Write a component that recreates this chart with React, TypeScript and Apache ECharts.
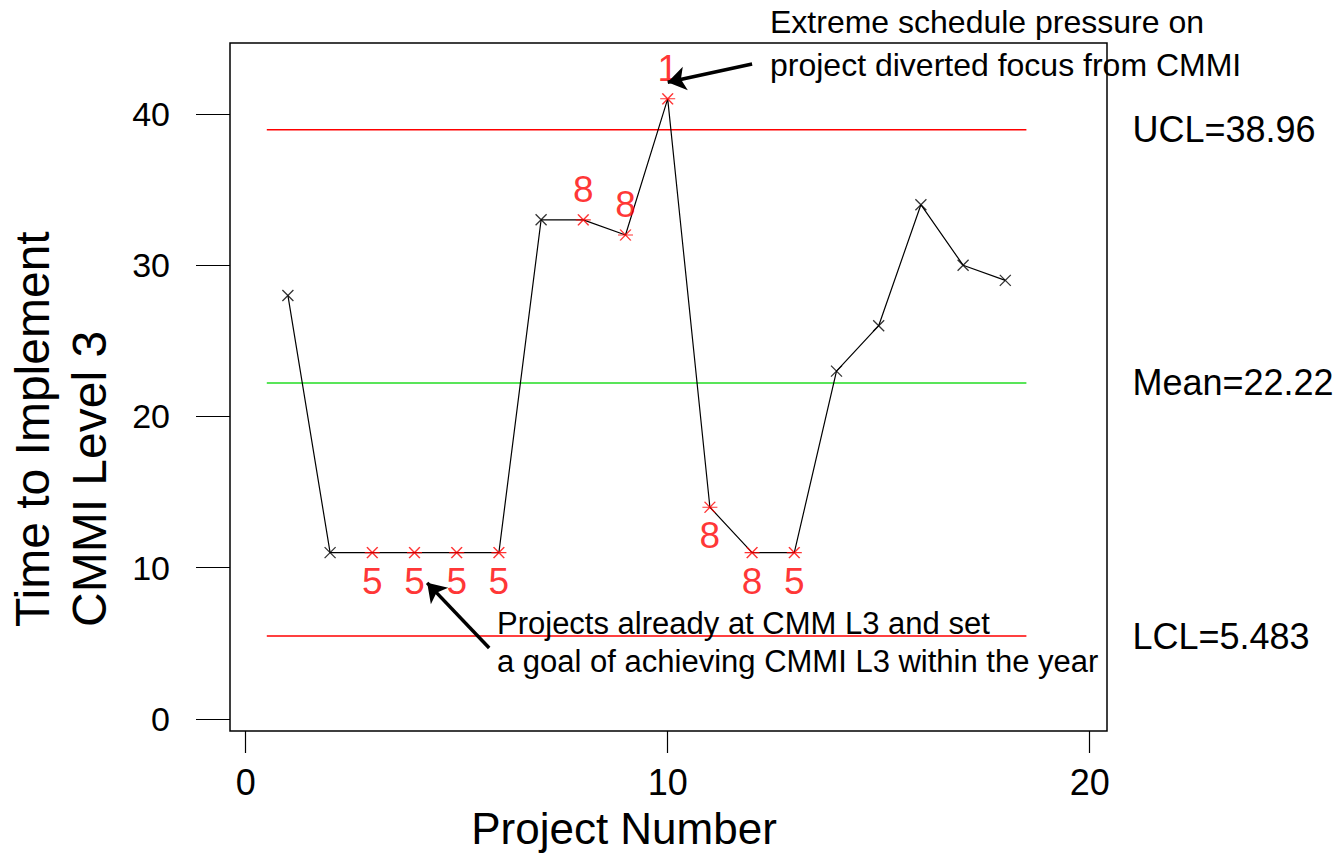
import React, { useEffect, useRef } from "react";
import * as echarts from "echarts";

// Project data: time (months) to reach CMMI Level 3
const PROJECTS = [1, 2, 3, 4, 5, 6, 7, 8, 9, 10, 11, 12, 13, 14, 15, 16, 17, 18];
const TIMES = [28, 11, 11, 11, 11, 11, 33, 33, 32, 41, 14, 11, 11, 23, 26, 34, 30, 29];
// Number of the failed control-chart test for each point ("" = no failure)
const FAILED_TEST = ["", "", "5", "5", "5", "5", "", "8", "8", "1", "8", "8", "5", "", "", "", "", ""];

// Control limits
const UCL = 38.96;
const MEAN = 22.22;
const LCL = 5.483;
const LIMIT_SPAN = [0.5, 18.5];

const X_TICKS = [0, 10, 20];
const Y_TICKS = [0, 10, 20, 30, 40];

// Callout texts and arrow end points (data coordinates: [from, to])
const NOTE_TOP = ["Extreme schedule pressure on", "project diverted focus from CMMI"];
const NOTE_BOTTOM = ["Projects already at CMM L3 and set", "a goal of achieving CMMI L3 within the year"];
const ARROW_TOP = [[12.0, 43.3], [10.0, 42.1]];
const ARROW_BOTTOM = [[5.77, 4.69], [4.3, 9.0]];

const FONT = '"Liberation Sans", Arial, Helvetica, sans-serif';
const CROSS = "path://M0,0L10,10M10,0L0,10";
const STAR = "path://M0,0L10,10M10,0L0,10M-2,5L12,5";

export default function App() {
  const ref = useRef<HTMLDivElement>(null);

  useEffect(() => {
    if (!ref.current) return;
    const chart = echarts.init(ref.current, undefined, { renderer: "svg" });

    const points = PROJECTS.map((p, i) => {
      const flagged = FAILED_TEST[i] !== "";
      const above = TIMES[i] > MEAN;
      return {
        value: [p, TIMES[i]],
        symbol: flagged ? STAR : CROSS,
        symbolSize: flagged ? [15, 11] : [11, 11],
        itemStyle: {
          color: "rgba(0,0,0,0)",
          borderColor: flagged ? "#ff0000" : "#000000",
          borderWidth: 1.3,
        },
        label: {
          show: flagged,
          formatter: FAILED_TEST[i],
          position: above ? "top" : "bottom",
          distance: above ? 6 : 4,
          color: "#ff0000",
          fontSize: 37,
          fontFamily: FONT,
          lineHeight: 37,
        },
      };
    });

    const limitSeries = (name: string, value: number, color: string) => ({
      name,
      type: "line",
      data: [
        [LIMIT_SPAN[0], value],
        [LIMIT_SPAN[1], value],
      ],
      symbol: "none",
      silent: true,
      lineStyle: { color, width: 1.5 },
      z: 1,
      endLabel: {
        show: true,
        formatter: `${name}=${value}`,
        distance: 106,
        color: "#000",
        fontSize: 36,
        fontFamily: FONT,
      },
    });

    chart.setOption({
      animation: false,
      textStyle: { fontFamily: FONT },
      grid: {
        show: true,
        left: 230,
        right: 233,
        top: 43,
        bottom: 122,
        borderColor: "#000",
        borderWidth: 1.5,
        backgroundColor: "transparent",
      },
      xAxis: {
        type: "value",
        min: -0.372,
        max: 20.41,
        axisLine: { show: false, onZero: false },
        splitLine: { show: false },
        axisTick: {
          show: true,
          length: 22,
          customValues: X_TICKS,
          lineStyle: { color: "#000", width: 1.2 },
        },
        axisLabel: {
          customValues: X_TICKS,
          fontSize: 36,
          lineHeight: 30,
          color: "#000",
          margin: 36,
          fontFamily: FONT,
        },
      },
      yAxis: {
        type: "value",
        min: -0.793,
        max: 44.69,
        axisLine: { show: false, onZero: false },
        splitLine: { show: false },
        axisTick: {
          show: true,
          length: 34,
          customValues: Y_TICKS,
          lineStyle: { color: "#000", width: 1.2 },
        },
        axisLabel: {
          customValues: Y_TICKS,
          fontSize: 34,
          color: "#000",
          margin: 60,
          fontFamily: FONT,
        },
      },
      series: [
        limitSeries("UCL", UCL, "#ff0000"),
        limitSeries("Mean", MEAN, "#22dd22"),
        limitSeries("LCL", LCL, "#ff0000"),
        {
          type: "line",
          data: PROJECTS.map((p, i) => [p, TIMES[i]]),
          symbol: "none",
          silent: true,
          lineStyle: { color: "#000", width: 1.2 },
          z: 2,
          markLine: {
            silent: true,
            symbol: ["none", "arrow"],
            symbolSize: 18,
            label: { show: false },
            lineStyle: { color: "#000", width: 3.5, type: "solid" },
            data: [
              [{ coord: ARROW_TOP[0] }, { coord: ARROW_TOP[1] }],
              [{ coord: ARROW_BOTTOM[0] }, { coord: ARROW_BOTTOM[1] }],
            ],
          },
        },
        {
          type: "scatter",
          data: points,
          z: 3,
          silent: true,
        },
      ],
      graphic: [
        {
          type: "text",
          x: 4,
          y: 627,
          rotation: Math.PI / 2,
          style: {
            text: "Time to Implement\nCMMI Level 3",
            font: `48px ${FONT}`,
            lineHeight: 57,
            textAlign: "left",
            textVerticalAlign: "top",
            fill: "#000",
          },
        },
        {
          type: "text",
          x: 624,
          y: 828,
          style: {
            text: "Project Number",
            font: `44px ${FONT}`,
            lineHeight: 40,
            textAlign: "center",
            textVerticalAlign: "middle",
            fill: "#000",
          },
        },
        ...NOTE_TOP.map((t, i) => ({
          type: "text",
          x: 770,
          y: 22 + i * 43,
          z: 10,
          style: {
            text: t,
            font: `32px ${FONT}`,
            textAlign: "left",
            textVerticalAlign: "middle",
            fill: "#000",
          },
        })),
        ...NOTE_BOTTOM.map((t, i) => ({
          type: "text",
          x: 497,
          y: 623 + i * 38,
          z: 10,
          style: {
            text: t,
            font: `31px ${FONT}`,
            textAlign: "left",
            textVerticalAlign: "middle",
            fill: "#000",
          },
        })),
      ],
    });

    return () => chart.dispose();
  }, []);

  return (
    <div
      ref={ref}
      style={{ position: "fixed", left: 0, top: 0, width: 1340, height: 853, background: "#fff" }}
    />
  );
}
